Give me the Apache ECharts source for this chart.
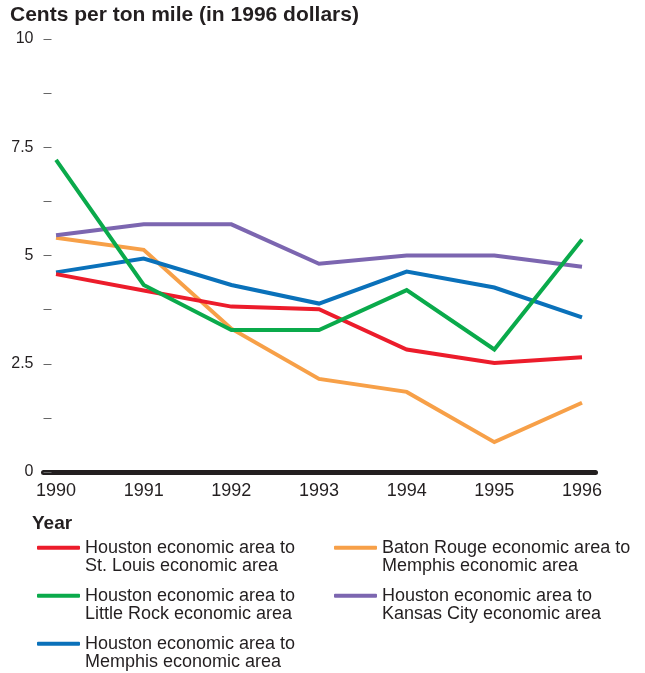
<!DOCTYPE html>
<html>
<head>
<meta charset="utf-8">
<script src="https://cdn.jsdelivr.net/npm/echarts@6/dist/echarts.min.js"></script>
<style>
  html, body { margin: 0; padding: 0; background: #fff; }
  #chart { width: 645px; height: 673px; }
</style>
</head>
<body>
<div id="chart"></div>
<script>
const years = [1990, 1991, 1992, 1993, 1994, 1995, 1996]
const yTicks = [0, 2.5, 5, 7.5, 10]

const houstonStLouis = [4.57, 4.19, 3.82, 3.76, 2.83, 2.52, 2.65]
const houstonLittleRock = [7.21, 4.32, 3.28, 3.28, 4.20, 2.83, 5.37]
const houstonMemphis = [4.61, 4.93, 4.32, 3.89, 4.63, 4.26, 3.57]
const batonRougeMemphis = [5.41, 5.13, 3.31, 2.15, 1.85, 0.69, 1.60]
const houstonKansasCity = [5.47, 5.72, 5.72, 4.81, 5.00, 5.00, 4.74]

const names = {
  red: 'Houston economic area to\nSt. Louis economic area',
  green: 'Houston economic area to\nLittle Rock economic area',
  blue: 'Houston economic area to\nMemphis economic area',
  orange: 'Baton Rouge economic area to\nMemphis economic area',
  purple: 'Houston economic area to\nKansas City economic area'
}

const font = '"Liberation Sans", Arial, Helvetica, sans-serif'
const ink = '#231F20'

function pairs(vals) {
  return years.map((y, i) => [y, vals[i]])
}

function lineSeries(name, vals, color) {
  return {
    name: name,
    type: 'line',
    data: pairs(vals),
    symbol: 'none',
    lineStyle: { width: 4, color: color, join: 'miter' },
    itemStyle: { color: color },
    emphasis: { disabled: true }
  }
}

// blank first line so the first text line sits level with the legend stroke
const legendBase = {
  orient: 'vertical',
  top: 520,
  padding: 0,
  itemWidth: 43,
  itemHeight: 4,
  itemGap: -7.5,
  icon: 'roundRect',
  selectedMode: false,
  formatter: (name) => '\n' + name,
  textStyle: {
    fontFamily: font,
    fontSize: 18,
    lineHeight: 18.5,
    color: ink
  }
}

const chart = echarts.init(document.getElementById('chart'))
chart.setOption({
  backgroundColor: '#fff',
  animation: false,
  title: [
    {
      text: 'Cents per ton mile (in 1996 dollars)',
      left: 10,
      top: 5,
      padding: 0,
      textStyle: { fontFamily: font, fontSize: 21, fontWeight: 'bold', color: ink }
    },
    {
      text: 'Year',
      left: 32,
      top: 514,
      padding: 0,
      textStyle: { fontFamily: font, fontSize: 19, fontWeight: 'bold', color: ink }
    }
  ],
  grid: {
    left: 43.5,
    right: 49.5,
    top: 39,
    bottom: 201
  },
  xAxis: {
    type: 'value',
    min: 1989.857,
    max: 1996.154,
    minInterval: 1,
    maxInterval: 1,
    splitLine: { show: false },
    axisTick: { show: false },
    axisLine: {
      show: true,
      lineStyle: { color: ink, width: 5, cap: 'round' }
    },
    axisLabel: {
      margin: 10,
      fontFamily: font,
      fontSize: 18,
      color: ink,
      showMinLabel: false,
      showMaxLabel: false,
      formatter: (v) => (years.includes(v) ? String(v) : '')
    }
  },
  yAxis: {
    type: 'value',
    min: 0,
    max: 10,
    interval: 1.25,
    splitLine: { show: false },
    axisLine: { show: false },
    axisTick: {
      show: true,
      inside: true,
      length: 8,
      lineStyle: { color: '#666', width: 1 }
    },
    axisLabel: {
      margin: 10,
      fontFamily: font,
      fontSize: 16,
      color: ink,
      formatter: (v) => (yTicks.includes(v) ? String(v) : '')
    }
  },
  legend: [
    Object.assign({}, legendBase, {
      data: [names.red, names.green, names.blue],
      left: 37
    }),
    Object.assign({}, legendBase, {
      data: [names.orange, names.purple],
      left: 334
    })
  ],
  series: [
    lineSeries(names.orange, batonRougeMemphis, '#F7A048'),
    lineSeries(names.purple, houstonKansasCity, '#7C66B0'),
    lineSeries(names.blue, houstonMemphis, '#0A71BA'),
    lineSeries(names.red, houstonStLouis, '#EC1C2B'),
    lineSeries(names.green, houstonLittleRock, '#0AAA4B')
  ]
})
</script>
</body>
</html>
